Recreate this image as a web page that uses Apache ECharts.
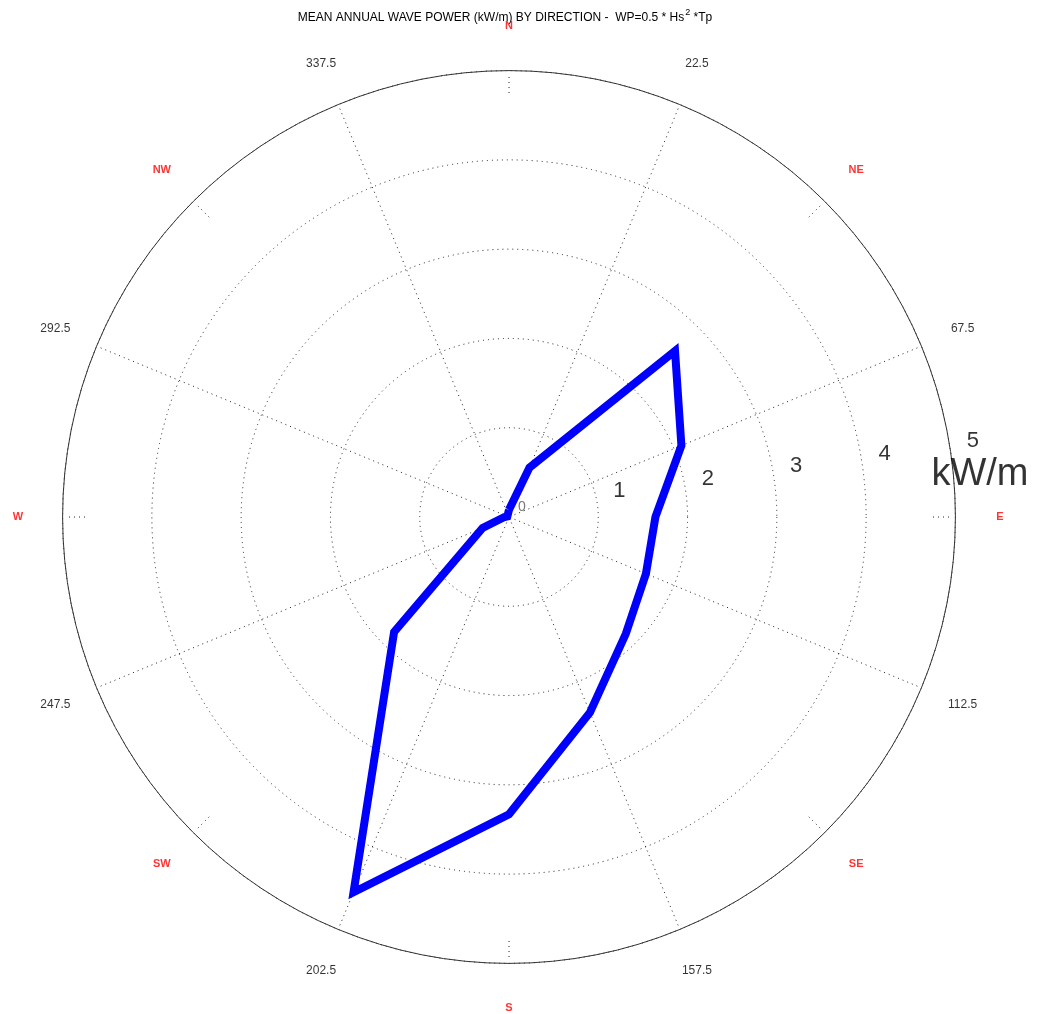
<!DOCTYPE html>
<html>
<head>
<meta charset="utf-8">
<script src="https://cdn.jsdelivr.net/npm/echarts@6/dist/echarts.min.js"></script>
<style>
html,body{margin:0;padding:0;background:#fff;}
#chart{width:1040px;height:1014px;}
</style>
</head>
<body>
<div id="chart"></div>
<script>
// ---- data ----
const directions = [0, 22.5, 45, 67.5, 90, 112.5, 135, 157.5, 180, 202.5, 225, 247.5, 270, 292.5, 315, 337.5];
const wavePower = [0.08, 0.60, 2.63, 2.09, 1.64, 1.66, 1.85, 2.37, 3.33, 4.55, 1.82, 0.32, 0.05, 0.02, 0.02, 0.03];
const compassLabels = ['N', 'NE', 'E', 'SE', 'S', 'SW', 'W', 'NW'];
const compassAngles = [0, 45, 90, 135, 180, 225, 270, 315];
const degreeLabels = ['22.5', '67.5', '112.5', '157.5', '202.5', '247.5', '292.5', '337.5'];
const degreeAngles = [22.5, 67.5, 112.5, 157.5, 202.5, 247.5, 292.5, 337.5];
const radialTicks = [0, 1, 2, 3, 4, 5];
const unitLabel = 'kW/m';
const titleMain = 'MEAN ANNUAL WAVE POWER (kW/m) BY DIRECTION -  WP=0.5 * Hs';
const titleSup = '2';
const titleTail = ' *Tp';

// ---- layout ----
const CX = 509, CY = 517, R = 446.4;
const FONT = '"Liberation Sans", Arial, sans-serif';
const dotted = [1, 4];
const radialLabelAngle = 81.9;

const chart = echarts.init(document.getElementById('chart'), null, {renderer: 'canvas'});

const lineData = directions.map((d, i) => [wavePower[i], d]);
lineData.push([wavePower[0], directions[0]]);

const hiddenAngle = (extra) => Object.assign({
  type: 'value', min: 0, max: 360, startAngle: 90, clockwise: true, interval: 45,
  axisLine: {show: false}, axisTick: {show: false}, axisLabel: {show: false},
  splitLine: {show: false}
}, extra || {});
const hiddenRadius = (extra) => Object.assign({
  type: 'value', min: 0, max: 1,
  axisLine: {show: false}, axisTick: {show: false}, axisLabel: {show: false},
  splitLine: {show: false}
}, extra || {});

const radialData = radialTicks.map(v => ({
  value: [v, radialLabelAngle],
  name: String(v),
  label: v === 0
    ? {offset: [13, -10], fontSize: 14, color: '#555'}
    : {offset: [22, -13], fontSize: 22, color: '#000'}
}));
radialData.push({
  value: [radialTicks[radialTicks.length - 1], radialLabelAngle],
  name: unitLabel,
  label: {offset: [29, 20], fontSize: 38, color: '#000'}
});

const option = {
  animation: false,
  backgroundColor: '#fff',
  polar: [
    {center: [CX, CY], radius: R},
    {center: [CX, CY], radius: 442},
    {center: [CX, CY], radius: 440},
    {center: [CX, CY], radius: 491}
  ],
  angleAxis: [
    hiddenAngle({polarIndex: 0, axisLine: {show: true, lineStyle: {color: '#333', width: 1}}}),
    hiddenAngle({polarIndex: 1, startAngle: 67.5,
      splitLine: {show: true, lineStyle: {color: '#222', width: 1, type: dotted}}}),
    hiddenAngle({polarIndex: 2,
      axisTick: {show: true, inside: true, length: 18, lineStyle: {color: '#222', width: 1, type: dotted}}}),
    hiddenAngle({polarIndex: 3})
  ],
  radiusAxis: [
    hiddenRadius({polarIndex: 0, max: 5, interval: 1,
      splitLine: {show: true, lineStyle: {color: '#222', width: 1, type: dotted}}}),
    hiddenRadius({polarIndex: 1}),
    hiddenRadius({polarIndex: 2}),
    hiddenRadius({polarIndex: 3})
  ],
  graphic: [{
    type: 'text', x: 505, y: 16, silent: true,
    style: {
      text: '{t|' + titleMain + '}{s|' + titleSup + '}{t|' + titleTail + '}',
      align: 'center', verticalAlign: 'middle',
      rich: {
        t: {fontSize: 12, fontFamily: FONT, fill: '#000', lineHeight: 16, verticalAlign: 'bottom'},
        s: {fontSize: 9, fontFamily: FONT, fill: '#000', lineHeight: 16, verticalAlign: 'top', padding: [0, 0, 0, 1]}
      }
    }
  }],
  series: [
    {
      type: 'line', coordinateSystem: 'polar', polarIndex: 0,
      data: lineData, symbol: 'none', smooth: false, silent: true,
      lineStyle: {color: '#0000ff', width: 8, join: 'miter', miterLimit: 3}
    },
    {
      type: 'scatter', coordinateSystem: 'polar', polarIndex: 0, clip: false, silent: true,
      symbolSize: 1, itemStyle: {color: 'transparent'},
      data: radialData,
      label: {show: true, position: 'inside', formatter: '{b}', fontFamily: FONT}
    },
    {
      type: 'scatter', coordinateSystem: 'polar', polarIndex: 3, clip: false, silent: true,
      symbolSize: 1, itemStyle: {color: 'transparent'},
      data: compassLabels.map((n, i) => ({value: [1, compassAngles[i]], name: n})),
      label: {show: true, position: 'inside', formatter: '{b}', fontFamily: FONT,
        fontSize: 11, fontWeight: 'bold', color: '#ff0000'}
    },
    {
      type: 'scatter', coordinateSystem: 'polar', polarIndex: 3, clip: false, silent: true,
      symbolSize: 1, itemStyle: {color: 'transparent'},
      data: degreeLabels.map((n, i) => ({value: [1, degreeAngles[i]], name: n})),
      label: {show: true, position: 'inside', formatter: '{b}', fontFamily: FONT,
        fontSize: 12, color: '#000'}
    }
  ]
};
chart.setOption(option);
</script>
</body>
</html>
